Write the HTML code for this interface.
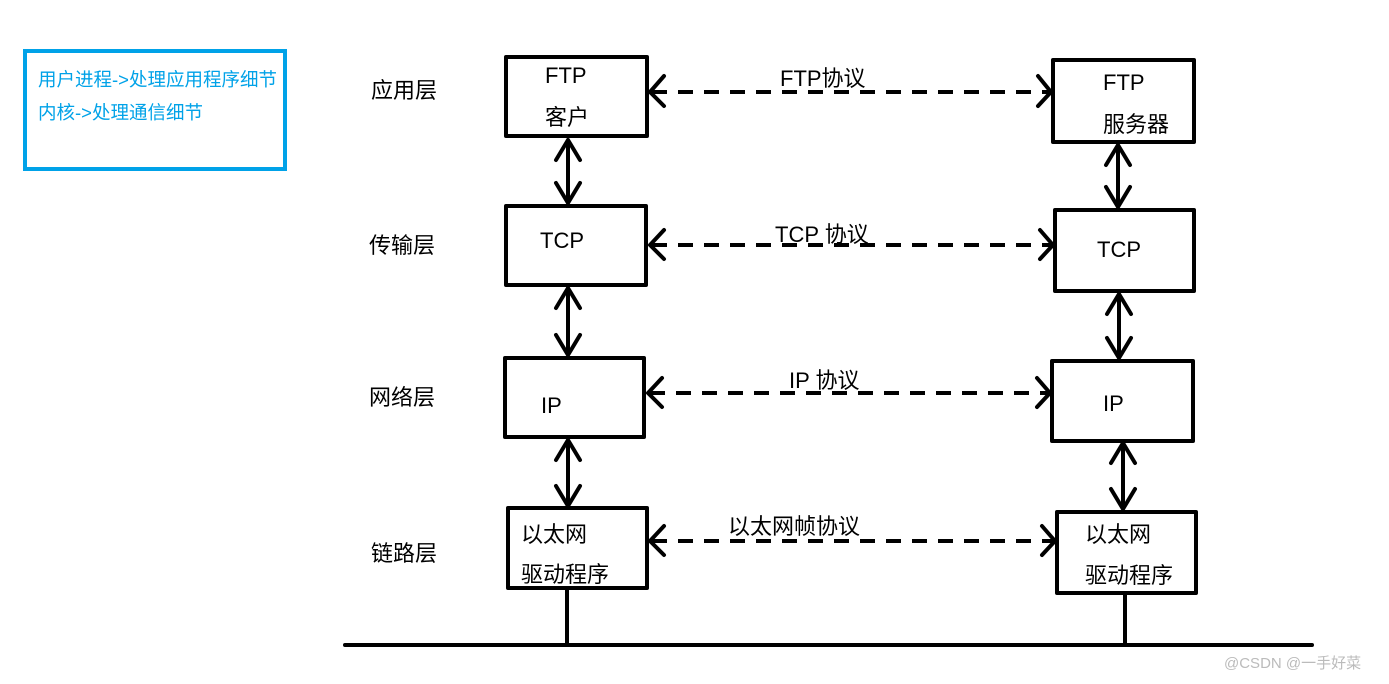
<!DOCTYPE html>
<html><head><meta charset="utf-8"><style>
body{margin:0;background:#fff;width:1389px;height:679px;overflow:hidden}
svg text{font-family:"Liberation Sans","Noto Sans CJK SC",sans-serif;fill:#000}
</style></head><body>
<svg width="1389" height="679" xmlns="http://www.w3.org/2000/svg">
<rect x="25" y="51" width="260" height="118" fill="none" stroke="#00a2e8" stroke-width="4"/>
<text x="38" y="86" font-size="18.5" style="fill:#00a2e8">用户进程-&gt;处理应用程序细节</text>
<text x="38" y="119" font-size="18.5" style="fill:#00a2e8">内核-&gt;处理通信细节</text>
<g font-size="22">
<text x="371" y="98">应用层</text>
<text x="369" y="253">传输层</text>
<text x="369" y="405">网络层</text>
<text x="371" y="561">链路层</text>
</g>
<g fill="none" stroke="#000" stroke-width="4" stroke-linecap="round" stroke-linejoin="round">
<rect x="506" y="57" width="141" height="79"/>
<rect x="506" y="206" width="140" height="79"/>
<rect x="505" y="358" width="139" height="79"/>
<rect x="508" y="508" width="139" height="80"/>
<rect x="1053" y="60" width="141" height="82"/>
<rect x="1055" y="210" width="139" height="81"/>
<rect x="1052" y="361" width="141" height="80"/>
<rect x="1057" y="512" width="139" height="81"/>
<line x1="345" y1="645" x2="1312" y2="645"/>
<line x1="567" y1="590" x2="567" y2="645"/>
<line x1="1125" y1="595" x2="1125" y2="645"/>
<path d="M568 140V203M556 160L568 140L580 160M556 183L568 203L580 183"/>
<path d="M568 288V355M556 308L568 288L580 308M556 335L568 355L580 335"/>
<path d="M568 440V506M556 460L568 440L580 460M556 486L568 506L580 486"/>
<path d="M1118 145V207M1106 165L1118 145L1130 165M1106 187L1118 207L1130 187"/>
<path d="M1119 294V358M1107 314L1119 294L1131 314M1107 338L1119 358L1131 338"/>
<path d="M1123 443V509M1111 463L1123 443L1135 463M1111 489L1123 509L1135 489"/>
<g stroke-dasharray="15 11" stroke-linecap="butt">
<line x1="652" y1="92" x2="1050" y2="92"/>
<line x1="652" y1="245" x2="1052" y2="245"/>
<line x1="650" y1="393" x2="1049" y2="393"/>
<line x1="652" y1="541" x2="1054" y2="541"/>
</g>
<path d="M664 76L650 92L664 106M1038 76L1051 92L1038 106"/>
<path d="M664 230L650 245L664 259M1040 230L1053 245L1040 259"/>
<path d="M662 378L648 393L662 407M1037 378L1050 393L1037 407"/>
<path d="M664 526L650 541L664 555M1042 526L1055 541L1042 555"/>
</g>
<g font-size="22">
<text x="545" y="83">FTP</text>
<text x="545" y="125">客户</text>
<text x="540" y="248">TCP</text>
<text x="541" y="413">IP</text>
<text x="521" y="542">以太网</text>
<text x="521" y="582">驱动程序</text>
<text x="1103" y="90">FTP</text>
<text x="1103" y="132">服务器</text>
<text x="1097" y="257">TCP</text>
<text x="1103" y="411">IP</text>
<text x="1085" y="542">以太网</text>
<text x="1085" y="583">驱动程序</text>
<text x="780" y="86">FTP协议</text>
<text x="775" y="242">TCP 协议</text>
<text x="789" y="388">IP  协议</text>
<text x="728" y="534">以太网帧协议</text>
</g>
<text x="1224" y="668" font-size="15" style="fill:#bbb">@CSDN @一手好菜</text>
</svg>
</body></html>
